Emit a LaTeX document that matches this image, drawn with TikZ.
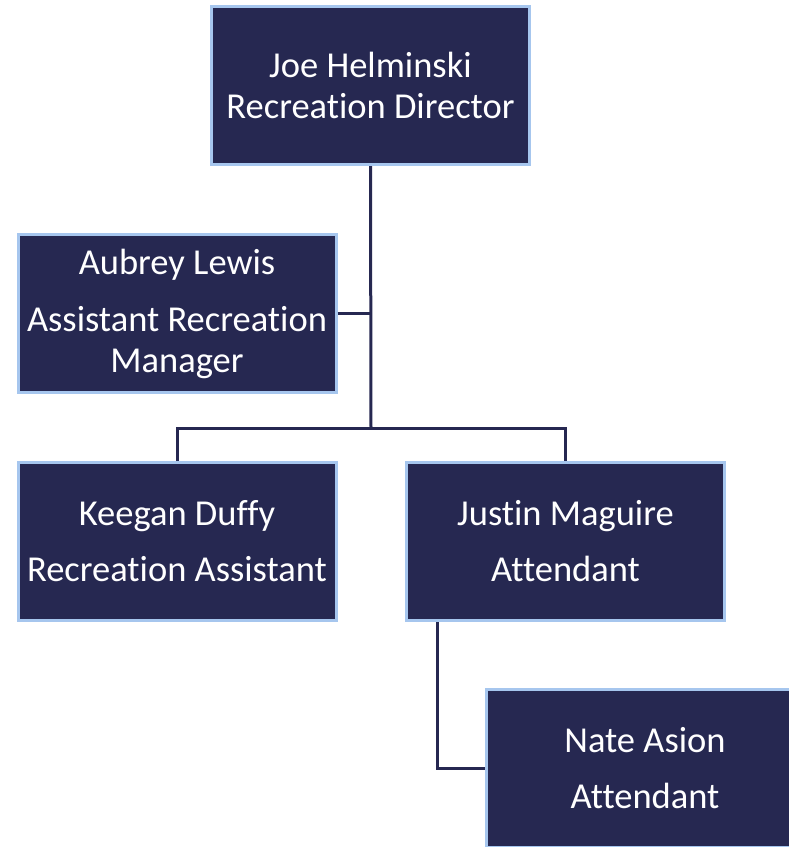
\documentclass[tikz,border=0pt]{standalone}
\usepackage{fontspec}
\setmainfont[RawFeature=-liga]{Carlito}
\definecolor{boxfill}{HTML}{262851}
\definecolor{boxedge}{HTML}{A6C6EE}
\definecolor{linkc}{HTML}{262851}
\begin{document}
\begin{tikzpicture}[x=1pt,y=-1pt,
  person/.style={draw=boxedge, fill=boxfill, line width=3pt, minimum width=318pt, minimum height=158pt,
    inner sep=0pt, text=white, align=center, font=\fontsize{36.5}{41}\selectfont},
  link/.style={draw=linkc, line width=3pt}]
\useasboundingbox (0,0) rectangle (789,847);
\clip (0,0) rectangle (789,847);
\node[person] (joe) at (370.5,85.5) {Joe Helminski\\Recreation Director};
\node[person] (aubrey) at (177,313.5) {Aubrey Lewis\\[16pt]Assistant Recreation\\Manager};
\node[person] (keegan) at (177,541.5) {Keegan Duffy\\[15pt]Recreation Assistant};
\node[person] (justin) at (565.5,541.5) {Justin Maguire\\[15pt]Attendant};
\node[person] (nate) at (645,768.5) {Nate Asion\\[15pt]Attendant};
\coordinate (bus) at (371,428);
\coordinate (mid) at (371,313.5);
\draw[link] (joe.south) -- (bus);
\draw[link] (aubrey.east) -- (mid);
\draw[link] (keegan.north) |- (bus) -| (justin.north);
\draw[link] ([xshift=-128pt]justin.south) |- (nate.west);
\end{tikzpicture}
\end{document}
